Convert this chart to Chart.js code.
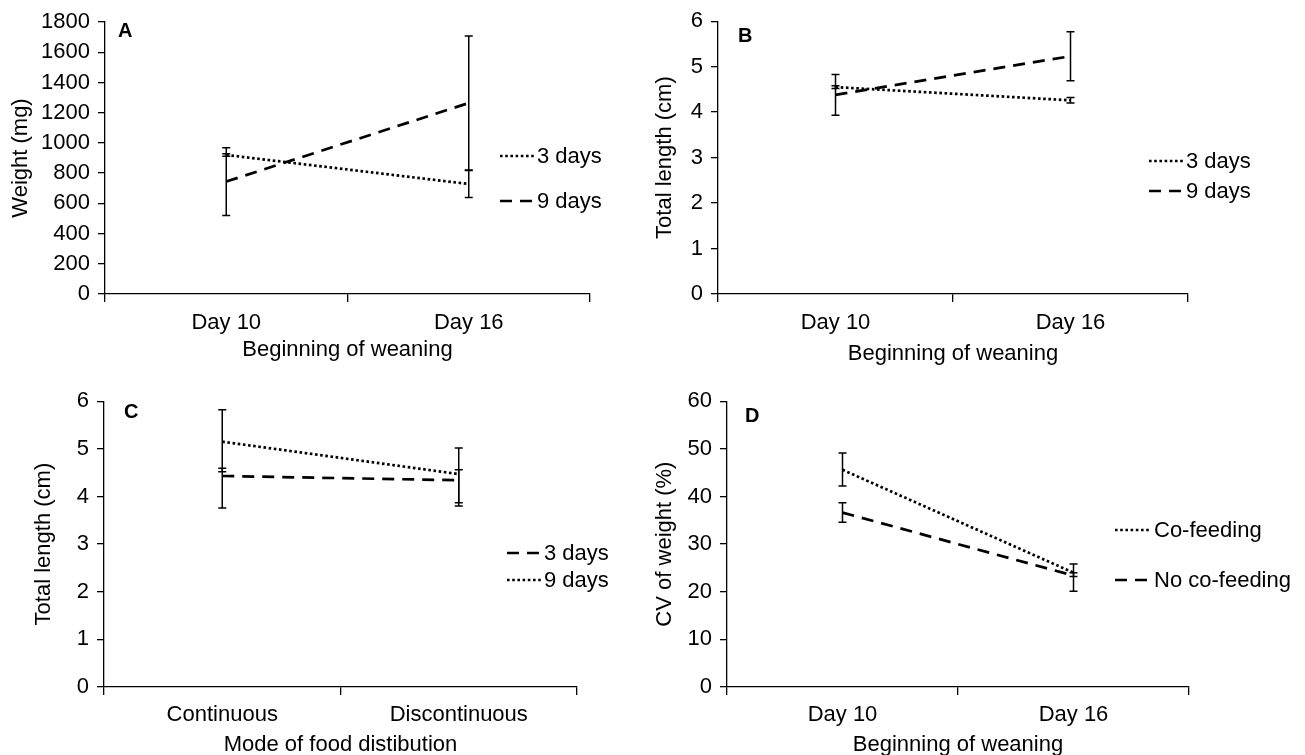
<!DOCTYPE html>
<html><head><meta charset="utf-8">
<script src="https://cdn.jsdelivr.net/npm/chart.js@4.4.0/dist/chart.umd.min.js"></script>
<style>
html,body{margin:0;padding:0;background:#fff;}
body{width:1305px;height:755px;position:relative;overflow:hidden;}
canvas{position:absolute;display:block;}
</style></head><body>
<canvas id="cA"></canvas>
<canvas id="cB"></canvas>
<canvas id="cC"></canvas>
<canvas id="cD"></canvas>
<script>
// ---------- DATA ----------
const weaningDays = ['Day 10', 'Day 16'];
const foodModes = ['Continuous', 'Discontinuous'];

// Panel A: weight (mg)
const weight3d = [920, 728];
const weight3dErrUp = [8, 90];
const weight3dErrDown = [8, 90];
const weight9d = [744, 1264];
const weight9dErrUp = [224, 444];
const weight9dErrDown = [224, 444];
const weightTicks = [0, 1800, 200];

// Panel B: total length (cm) by weaning day
const lenB3d = [4.55, 4.26];
const lenB3dErrUp = [0.03, 0.06];
const lenB3dErrDown = [0.03, 0.06];
const lenB9d = [4.38, 5.23];
const lenB9dErrUp = [0.45, 0.54];
const lenB9dErrDown = [0.45, 0.54];
const lengthTicks = [0, 6, 1];

// Panel C: total length (cm) by food distribution mode
const lenC3d = [4.43, 4.34];
const lenC3dErrUp = [0.16, 0.22];
const lenC3dErrDown = [0.67, 0.54];
const lenC9d = [5.15, 4.47];
const lenC9dErrUp = [0.67, 0.55];
const lenC9dErrDown = [0.63, 0.60];

// Panel D: CV of weight (%)
const cvCo = [45.6, 24.0];
const cvCoErrUp = [3.5, 1.8];
const cvCoErrDown = [3.4, 0.8];
const cvNo = [36.6, 23.4];
const cvNoErrUp = [2.1, 0.6];
const cvNoErrDown = [2.0, 3.3];
const cvTicks = [0, 60, 10];

// ---------- STYLE ----------
const FONT = "'Liberation Sans', Arial, Helvetica, sans-serif";
const FS = 22;
const DOT = [2.6, 2.6];
const DASH = [12, 8];

const errorBarPlugin = {
  id: 'errorBars',
  afterDatasetsDraw(chart) {
    const ctx = chart.ctx;
    const ys = chart.scales.y;
    ctx.save();
    ctx.strokeStyle = '#000';
    ctx.lineWidth = 1.5;
    ctx.setLineDash([]);
    chart.data.datasets.forEach((ds, di) => {
      const meta = chart.getDatasetMeta(di);
      meta.data.forEach((pt, i) => {
        const v = ds.data[i];
        const yt = ys.getPixelForValue(v + ds.errUp[i]);
        const yb = ys.getPixelForValue(v - ds.errDown[i]);
        const x = pt.x;
        ctx.beginPath();
        ctx.moveTo(x, yt); ctx.lineTo(x, yb);
        ctx.moveTo(x - 4, yt); ctx.lineTo(x + 4, yt);
        ctx.moveTo(x - 4, yb); ctx.lineTo(x + 4, yb);
        ctx.stroke();
      });
    });
    ctx.restore();
  }
};

const sideLegendPlugin = {
  id: 'sideLegend',
  afterDraw(chart, args, opts) {
    const ctx = chart.ctx;
    ctx.save();
    ctx.font = FS + 'px ' + FONT;
    ctx.fillStyle = '#000';
    ctx.textBaseline = 'middle';
    chart.data.datasets.forEach((ds, i) => {
      const y = opts.ys[i];
      ctx.strokeStyle = '#000';
      ctx.lineWidth = ds.borderWidth;
      ctx.setLineDash(ds.borderDash);
      ctx.beginPath();
      ctx.moveTo(opts.x, y);
      ctx.lineTo(opts.x + opts.len, y);
      ctx.stroke();
      ctx.setLineDash([]);
      ctx.fillText(ds.label, opts.x + opts.len + 3, y + 1);
    });
    ctx.restore();
  }
};

const panelLetterPlugin = {
  id: 'panelLetter',
  afterDraw(chart, args, opts) {
    const ctx = chart.ctx;
    ctx.save();
    ctx.font = 'bold ' + (FS - 2) + 'px ' + FONT;
    ctx.fillStyle = '#000';
    ctx.textBaseline = 'top';
    ctx.fillText(opts.text, chart.chartArea.left + opts.dx, chart.chartArea.top + opts.dy);
    ctx.restore();
  }
};

function lineDs(label, data, up, down, dash) {
  return {label, data, errUp: up, errDown: down, borderColor: '#000', borderWidth: 2.7,
    borderDash: dash, pointRadius: 0, fill: false, tension: 0, borderCapStyle: 'butt'};
}

function makePanel(id, p) {
  const cv = document.getElementById(id);
  cv.width = p.w; cv.height = p.h;
  cv.style.left = p.left + 'px'; cv.style.top = p.top + 'px';
  cv.style.width = p.w + 'px'; cv.style.height = p.h + 'px';
  const font = {family: FONT, size: FS};
  new Chart(cv, {
    type: 'line',
    data: {labels: p.labels, datasets: p.datasets},
    plugins: [errorBarPlugin, sideLegendPlugin, panelLetterPlugin],
    options: {
      responsive: false, animation: false, events: [],
      layout: {padding: {top: p.padTop, right: p.padRight, left: 0, bottom: 0}},
      plugins: {
        legend: {display: false}, tooltip: {enabled: false},
        sideLegend: p.legend, panelLetter: p.letter
      },
      scales: {
        x: {
          type: 'category', offset: true,
          grid: {offset: true, drawOnChartArea: false, tickLength: 8, color: '#000', lineWidth: 1.3},
          border: {color: '#000', width: 1.3},
          ticks: {color: '#000', font, padding: p.xTickPad, maxRotation: 0, autoSkip: false},
          title: {display: true, text: p.xTitle, color: '#000', font, padding: {top: 0, bottom: p.xTitlePad}},
          afterFit(s) { s.height = p.xAxisH; }
        },
        y: {
          min: p.yTicks[0], max: p.yTicks[1],
          ticks: {stepSize: p.yTicks[2], color: '#000', font, padding: 8, callback: v => String(v)},
          grid: {drawOnChartArea: false, tickLength: 7, color: '#000', lineWidth: 1.3},
          border: {color: '#000', width: 1.3},
          title: {display: true, text: p.yTitle, color: '#000', font, padding: {top: p.yTitlePad, bottom: 0}},
          afterFit(s) { s.width = p.yAxisW; }
        }
      }
    }
  });
}

makePanel('cA', {
  left: 0, top: 0, w: 650, h: 370, padTop: 22, padRight: 60, yAxisW: 105, xAxisH: 76,
  xTickPad: 8, xTitlePad: 7, yTitlePad: 8,
  labels: weaningDays, yTicks: weightTicks,
  xTitle: 'Beginning of weaning', yTitle: 'Weight (mg)',
  datasets: [
    lineDs('3 days', weight3d, weight3dErrUp, weight3dErrDown, DOT),
    lineDs('9 days', weight9d, weight9dErrUp, weight9dErrDown, DASH)
  ],
  legend: {x: 500, len: 34, ys: [156, 201]},
  letter: {text: 'A', dx: 13, dy: -1}
});

makePanel('cB', {
  left: 650, top: 0, w: 655, h: 370, padTop: 16, padRight: 117, yAxisW: 68, xAxisH: 76,
  xTickPad: 8, xTitlePad: 3, yTitlePad: 2,
  labels: weaningDays, yTicks: lengthTicks,
  xTitle: 'Beginning of weaning', yTitle: 'Total length (cm)',
  datasets: [
    lineDs('3 days', lenB3d, lenB3dErrUp, lenB3dErrDown, DOT),
    lineDs('9 days', lenB9d, lenB9dErrUp, lenB9dErrDown, DASH)
  ],
  legend: {x: 499, len: 34, ys: [161, 191]},
  letter: {text: 'B', dx: 20, dy: 5}
});

makePanel('cC', {
  left: 0, top: 380, w: 650, h: 378, padTop: 20, padRight: 73, yAxisW: 104, xAxisH: 71,
  xTickPad: 7, xTitlePad: 0, yTitlePad: 31,
  labels: foodModes, yTicks: lengthTicks,
  xTitle: 'Mode of food distibution', yTitle: 'Total length (cm)',
  datasets: [
    lineDs('3 days', lenC3d, lenC3dErrUp, lenC3dErrDown, DASH),
    lineDs('9 days', lenC9d, lenC9dErrUp, lenC9dErrDown, DOT)
  ],
  legend: {x: 507, len: 34, ys: [173, 200]},
  letter: {text: 'C', dx: 20, dy: 1}
});

makePanel('cD', {
  left: 650, top: 380, w: 655, h: 378, padTop: 16, padRight: 116, yAxisW: 77, xAxisH: 71,
  xTickPad: 7, xTitlePad: 0, yTitlePad: 2,
  labels: weaningDays, yTicks: cvTicks,
  xTitle: 'Beginning of weaning', yTitle: 'CV of weight (%)',
  datasets: [
    lineDs('Co-feeding', cvCo, cvCoErrUp, cvCoErrDown, DOT),
    lineDs('No co-feeding', cvNo, cvNoErrUp, cvNoErrDown, DASH)
  ],
  legend: {x: 465, len: 36, ys: [150, 200]},
  letter: {text: 'D', dx: 18, dy: 5}
});
</script>
</body></html>
